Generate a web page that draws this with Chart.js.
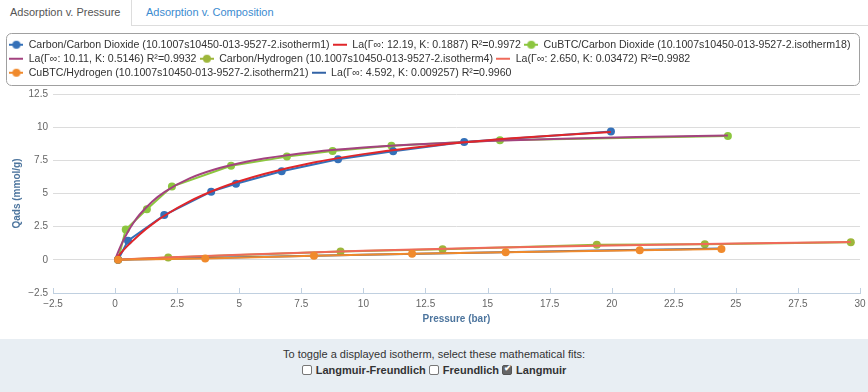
<!DOCTYPE html>
<html>
<head>
<meta charset="utf-8">
<script src="https://cdn.jsdelivr.net/npm/chart.js@4.4.1/dist/chart.umd.min.js"></script>
<style>
    body { margin: 0; width: 868px; height: 392px; position: relative; overflow: hidden; background: #fff; font-family: "Liberation Sans", Arial, sans-serif; }
    .tabs { position: absolute; top: 0; left: 0; width: 868px; height: 26px; }
    .tabs .line { position: absolute; left: 131px; right: 0; top: 25px; border-top: 1px solid #ddd; }
    .tab { position: absolute; top: 0; height: 25px; line-height: 24px; font-size: 11px; }
    .tab.active { left: 0; width: 131px; border-right: 1px solid #ddd; color: #555; text-indent: 10px; background: #fff; }
    .tab.link { left: 146px; color: #3b8bd0; }
    #wrap { position: absolute; top: 25px; left: 0; width: 868px; height: 314px; }
    .foot { position: absolute; top: 339px; left: 0; width: 868px; height: 53px; background: #e8eef3; text-align: center; color: #333; font-size: 11px; }
    .foot .t { margin-top: 9px; }
    .foot .opts { margin-top: 4px; font-weight: bold; font-size: 11px; }
    .cb { display: inline-block; width: 8px; height: 8px; border: 1px solid #777; border-radius: 2px; vertical-align: -1px; background: #fff; margin-right: 4px; position: relative; }
    .cb.on { background: #666; border-color: #555; }
    .cb.on::after { content: "\2714"; position: absolute; left: 1px; top: -3px; font-size: 9px; color: #fff; }
</style>
</head>
<body>
<div class="tabs">
    <div class="line"></div>
    <div class="tab active">Adsorption v. Pressure</div>
    <div class="tab link">Adsorption v. Composition</div>
</div>
<div id="wrap"><canvas id="isothermChart"></canvas></div>
<div class="foot">
    <div class="t">To toggle a displayed isotherm, select these mathematical fits:</div>
    <div class="opts"><span class="cb"></span>Langmuir-Freundlich <span class="cb"></span>Freundlich <span class="cb on"></span>Langmuir</div>
</div>
<script>
// measured isotherms (pressure in bar, uptake in mmol/g)
const carbonCO2Pressure = [0.12, 0.52, 1.98, 3.87, 4.87, 6.71, 8.98, 11.20, 14.06, 19.97];
const carbonCO2Uptake = [0, 1.44, 3.37, 5.14, 5.74, 6.68, 7.58, 8.18, 8.88, 9.68];

const cubtcCO2Pressure = [0.12, 0.43, 1.28, 2.29, 4.67, 6.92, 8.76, 11.13, 15.50, 24.68];
const cubtcCO2Uptake = [0, 2.29, 3.81, 5.52, 7.09, 7.78, 8.21, 8.60, 9.01, 9.33];

const carbonH2Pressure = [0.12, 2.14, 9.08, 13.19, 19.40, 23.75, 29.63];
const carbonH2Uptake = [0, 0.17, 0.62, 0.80, 1.14, 1.17, 1.32];

const cubtcH2Pressure = [0.12, 3.63, 8.01, 11.96, 15.73, 21.13, 24.42];
const cubtcH2Uptake = [0, 0.10, 0.30, 0.45, 0.57, 0.72, 0.82];

// Langmuir fit curves
const fitCarbonCO2Pressure = [0, 0.25, 0.5, 1, 1.5, 2, 3, 4, 5, 6, 8, 10, 12, 14, 16, 18, 19.97];
const fitCarbonCO2Uptake = [0, 0.549, 1.051, 1.935, 2.689, 3.340, 4.406, 5.243, 5.918, 6.473, 7.333, 7.968, 8.456, 8.843, 9.157, 9.417, 9.634];

const fitCubtcCO2Pressure = [0, 0.1, 0.25, 0.5, 0.75, 1, 1.5, 2, 3, 4, 5, 6, 8, 10, 12, 15, 18, 21, 24.68];
const fitCubtcCO2Uptake = [0, 0.495, 1.152, 2.069, 2.815, 3.435, 4.404, 5.128, 6.136, 6.804, 7.280, 7.637, 8.134, 8.465, 8.701, 8.950, 9.125, 9.254, 9.372];

const fitCarbonH2Pressure = [0, 2, 5, 10, 15, 20, 25, 29.63];
const fitCarbonH2Uptake = [0, 0.172, 0.392, 0.683, 0.907, 1.086, 1.231, 1.344];

const fitCubtcH2Pressure = [0, 5, 10, 15, 20, 24.42];
const fitCubtcH2Uptake = [0, 0.203, 0.389, 0.560, 0.717, 0.847];

const seriesLabels = [
    'Carbon/Carbon Dioxide (10.1007s10450-013-9527-2.isotherm1)',
    'La(Γ∞: 12.19, K: 0.1887) R²=0.9972',
    'CuBTC/Carbon Dioxide (10.1007s10450-013-9527-2.isotherm18)',
    'La(Γ∞: 10.11, K: 0.5146) R²=0.9932',
    'Carbon/Hydrogen (10.1007s10450-013-9527-2.isotherm4)',
    'La(Γ∞: 2.650, K: 0.03472) R²=0.9982',
    'CuBTC/Hydrogen (10.1007s10450-013-9527-2.isotherm21)',
    'La(Γ∞: 4.592, K: 0.009257) R²=0.9960'
];
const seriesColors = ['#3470b8', '#e0262a', '#8cc63f', '#a3427f', '#9db63a', '#ef6a5a', '#f08a2c', '#3263a6'];

const xTickMin = -2.5, xTickMax = 30, yTickMin = -2.5, yTickMax = 12.5, tickStep = 2.5;

function toPoints(xs, ys) {
    return xs.map((x, i) => ({x: x, y: ys[i]}));
}

function measured(i, xs, ys, order) {
    return {
        label: seriesLabels[i],
        data: toPoints(xs, ys),
        borderColor: seriesColors[i],
        backgroundColor: seriesColors[i],
        borderWidth: 2,
        pointRadius: 4,
        pointHoverRadius: 5,
        pointBorderWidth: 0,
        tension: 0,
        order: order
    };
}

function fitted(i, xs, ys) {
    return {
        label: seriesLabels[i],
        data: toPoints(xs, ys),
        borderColor: seriesColors[i],
        backgroundColor: seriesColors[i],
        borderWidth: 2,
        pointRadius: 0,
        cubicInterpolationMode: 'monotone',
        order: 1
    };
}

function legendIcon(color, withDot) {
    const c = document.createElement('canvas');
    c.width = 14;
    c.height = 10;
    const g = c.getContext('2d');
    g.strokeStyle = color;
    g.lineWidth = 2;
    g.beginPath();
    g.moveTo(0, 5);
    g.lineTo(14, 5);
    g.stroke();
    if (withDot) {
        g.fillStyle = color;
        g.beginPath();
        g.arc(7, 5, 4, 0, Math.PI * 2);
        g.fill();
    }
    return c;
}
const legendIcons = seriesColors.map((c, i) => legendIcon(c, i % 2 === 0));

const legendExtra = 24;
const legendFrame = {
    id: 'legendFrame',
    beforeInit(chart) {
        const legend = chart.legend;
        const fit = legend.fit;
        const draw = legend.draw;
        // let the third item share the first row, as in the original
        legend.fit = function () {
            this.maxWidth += legendExtra;
            fit.call(this);
            this.height = 58;
        };
        legend.draw = function (area) {
            const r = this.right;
            this.right = r + legendExtra;
            draw.call(this, area);
            this.right = r;
        };
    },
    afterDraw(chart) {
        const l = chart.legend;
        const ctx = chart.ctx;
        ctx.save();
        ctx.strokeStyle = '#a0a0a0';
        ctx.lineWidth = 1;
        ctx.beginPath();
        ctx.roundRect(6.5, l.top - 2.5, 853, 52, 5);
        ctx.stroke();
        // small tick marks pointing up from the pressure axis
        const xs = chart.scales.x;
        ctx.strokeStyle = '#c0d0e0';
        xs.ticks.forEach(t => {
            const px = Math.round(xs.getPixelForValue(t.value)) + 0.5;
            ctx.beginPath();
            ctx.moveTo(px, xs.top);
            ctx.lineTo(px, xs.top - 5);
            ctx.stroke();
        });
        ctx.restore();
    }
};

const ctx = document.getElementById('isothermChart').getContext('2d');
new Chart(ctx, {
    type: 'line',
    data: {
        datasets: [
            measured(0, carbonCO2Pressure, carbonCO2Uptake, 2),
            fitted(1, fitCarbonCO2Pressure, fitCarbonCO2Uptake),
            measured(2, cubtcCO2Pressure, cubtcCO2Uptake, 2),
            fitted(3, fitCubtcCO2Pressure, fitCubtcCO2Uptake),
            measured(4, carbonH2Pressure, carbonH2Uptake, 2),
            fitted(5, fitCarbonH2Pressure, fitCarbonH2Uptake),
            measured(6, cubtcH2Pressure, cubtcH2Uptake, 0),
            fitted(7, fitCubtcH2Pressure, fitCubtcH2Uptake)
        ]
    },
    options: {
        responsive: true,
        maintainAspectRatio: false,
        animation: false,
        layout: {padding: {top: 11, left: 6, right: 8, bottom: 0}},
        plugins: {
            tooltip: {enabled: true},
            legend: {
                position: 'top',
                align: 'start',
                labels: {
                    usePointStyle: true,
                    pointStyleWidth: 14,
                    padding: 3.4,
                    color: '#333',
                    font: {family: 'Liberation Sans', size: 10.6},
                    sort: (a, b) => a.datasetIndex - b.datasetIndex,
                    generateLabels(chart) {
                        const items = Chart.defaults.plugins.legend.labels.generateLabels(chart);
                        items.forEach(it => { it.pointStyle = legendIcons[it.datasetIndex]; });
                        return items;
                    }
                }
            }
        },
        scales: {
            x: {
                type: 'linear',
                min: xTickMin,
                max: xTickMax,
                afterFit(scale) {
                    scale.height = 46;
                    scale.paddingLeft = 0;
                    scale.paddingRight = 0;
                },
                ticks: {
                    stepSize: tickStep,
                    padding: 5,
                    maxRotation: 0,
                    color: '#666',
                    font: {family: 'Liberation Sans', size: 10},
                    callback: v => String(v).replace('-', '\u2212')
                },
                grid: {display: false, drawTicks: false},
                border: {display: true, color: '#c0d0e0', width: 1},
                title: {
                    display: true,
                    text: 'Pressure (bar)',
                    color: '#4d759e',
                    font: {family: 'Liberation Sans', size: 10, weight: 'bold'},
                    padding: {top: 0, bottom: 14}
                }
            },
            y: {
                min: yTickMin,
                max: yTickMax,
                afterFit(scale) {
                    scale.width = 47;
                    scale.paddingTop = 0;
                    scale.paddingBottom = 0;
                },
                ticks: {
                    stepSize: tickStep,
                    padding: 5,
                    color: '#666',
                    font: {family: 'Liberation Sans', size: 10},
                    callback: v => String(v).replace('-', '\u2212')
                },
                grid: {color: '#dcdcdc', drawTicks: false},
                border: {display: false},
                title: {
                    display: true,
                    text: 'Qads (mmol/g)',
                    color: '#4d759e',
                    font: {family: 'Liberation Sans', size: 10, weight: 'bold'},
                    padding: {top: 5, bottom: 0}
                }
            }
        }
    },
    plugins: [legendFrame]
});
</script>
</body>
</html>
